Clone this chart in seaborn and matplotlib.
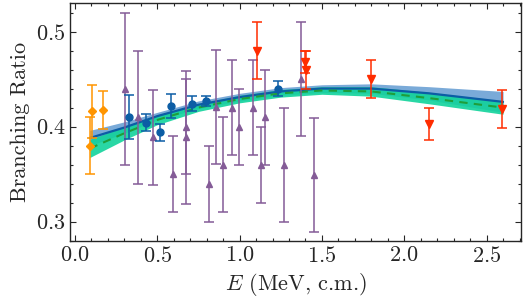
import numpy as np
import pandas as pd
import matplotlib
matplotlib.use("Agg")
import matplotlib.pyplot as plt
import seaborn as sns
from matplotlib.ticker import MultipleLocator

# data
orange_E = [0.09, 0.105, 0.172]
orange_R = [0.380, 0.416, 0.417]
orange_err = [0.030, 0.028, 0.020]

blue_E = [0.328, 0.429, 0.516, 0.583, 0.708, 0.795, 1.235]
blue_R = [0.410, 0.404, 0.394, 0.422, 0.424, 0.427, 0.440]
blue_err = [0.023, 0.009, 0.009, 0.0125, 0.008, 0.005, 0.008]

purple_E = [0.304, 0.385, 0.476, 0.597, 0.672, 0.676, 0.816, 0.855, 0.901, 0.951,
            0.996, 1.083, 1.129, 1.154, 1.269, 1.376, 1.453]
purple_R = [0.440, 0.410, 0.389, 0.350, 0.400, 0.389, 0.340, 0.421, 0.360, 0.420,
            0.400, 0.420, 0.360, 0.410, 0.360, 0.450, 0.349]
purple_err = [0.080, 0.070, 0.050, 0.040, 0.050, 0.070, 0.040, 0.060, 0.050, 0.050,
              0.040, 0.050, 0.040, 0.050, 0.060, 0.060, 0.060]

red_E = [1.103, 1.400, 1.405, 1.801, 2.151, 2.594]
red_R = [0.480, 0.468, 0.460, 0.450, 0.403, 0.419]
red_err = [0.030, 0.012, 0.020, 0.020, 0.017, 0.020]

# fits
fit_E = [0.09, 0.3, 0.5, 0.75, 1.0, 1.25, 1.5, 1.8, 2.15, 2.6]
fit1 = [0.388, 0.399, 0.411, 0.423, 0.431, 0.437, 0.440, 0.440, 0.435, 0.426]
fit1_w = [0.008, 0.006, 0.004, 0.004, 0.004, 0.004, 0.004, 0.005, 0.007, 0.011]
fit2 = [0.377, 0.393, 0.407, 0.420, 0.429, 0.435, 0.438, 0.437, 0.430, 0.420]
fit2_w = [0.0095, 0.007, 0.005, 0.004, 0.004, 0.004, 0.004, 0.005, 0.006, 0.007]

sns.set_style("ticks")
plt.rcParams["font.family"] = "serif"
plt.rcParams["font.serif"] = ["cmr10", "DejaVu Serif"]
plt.rcParams["mathtext.fontset"] = "cm"
plt.rcParams["axes.formatter.use_mathtext"] = True
plt.rcParams["font.size"] = 16

fig = plt.figure(figsize=(5.26, 3.06), dpi=100)
ax = fig.add_axes([0.134, 0.2134, 0.8574, 0.7768])

fits = pd.DataFrame({"E": fit_E, "fit1": fit1, "fit2": fit2})
f1 = np.array(fit1); w1 = np.array(fit1_w)
f2 = np.array(fit2); w2 = np.array(fit2_w)

ax.fill_between(fit_E, f1 - w1, f1 + w1, color="#7aaad8", lw=0, zorder=1)
ax.fill_between(fit_E, f2 - w2, f2 + w2, color="#12d39b", alpha=0.9, lw=0, zorder=2)
sns.lineplot(data=fits, x="E", y="fit1", ax=ax, color="#0C5DA5", lw=1.6, zorder=3)
sns.lineplot(data=fits, x="E", y="fit2", ax=ax, color="#1f9e3a", lw=1.5,
             linestyle=(0, (4, 3)), zorder=3)

eb = dict(capsize=3.5, elinewidth=1.1, capthick=1.1, ls="none")
ax.errorbar(purple_E, purple_R, yerr=purple_err, fmt="^", color="#845B97", ms=5, zorder=4, **eb)
ax.errorbar(orange_E, orange_R, yerr=orange_err, fmt="D", color="#FF9500", ms=4, zorder=5, **eb)
ax.errorbar(blue_E, blue_R, yerr=blue_err, fmt="o", color="#0C5DA5", ms=5, zorder=5, **eb)
ax.errorbar(red_E, red_R, yerr=red_err, fmt="v", color="#FF2C00", ms=5.5, zorder=5, **eb)

ax.set_xlim(-0.027, 2.712)
ax.set_ylim(0.28, 0.53)
ax.xaxis.set_major_locator(MultipleLocator(0.5))
ax.xaxis.set_minor_locator(MultipleLocator(0.1))
ax.yaxis.set_major_locator(MultipleLocator(0.1))
ax.yaxis.set_minor_locator(MultipleLocator(0.02))
ax.tick_params(which="both", direction="in", top=True, right=True, width=0.8)
ax.tick_params(which="major", length=4.5)
ax.tick_params(which="minor", length=2.5)
for s in ax.spines.values():
    s.set_linewidth(1.0)

ax.set_xlabel(r"$E$ (MeV, c.m.)")
ax.set_ylabel("Branching Ratio")

fig.savefig("out.png", dpi=100)
